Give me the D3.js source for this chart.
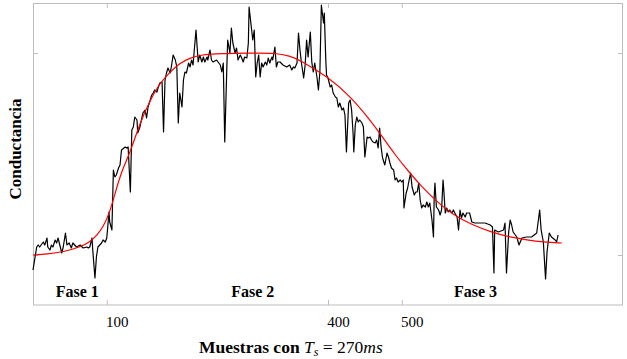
<!DOCTYPE html>
<html>
<head>
<meta charset="utf-8">
<script src="https://cdn.jsdelivr.net/npm/d3@7"></script>
<style>
body { margin: 0; background: #fff; }
svg { display: block; }
text { font-family: "Liberation Serif", "Times New Roman", serif; fill: #000; }
</style>
</head>
<body>
<script>
// muestra, conductancia
var conductancia = [
	[0,-7.5],[5,4],[7,5],[9,4],[14,6.5],[16,5],[19,8.5],[20,4],[23,2.5],[25,5],
	[27,4],[30,7.5],[32,6],[34,8.5],[37,4],[39,1],[41,4],[44,11],[46,5],[49,6],
	[52,3.5],[54,6],[59,4],[64,5],[68,3.5],[73,4],[75,3.5],[77,4],[80,8.5],[81,2.5],
	[84,-11.5],[86,-1],[88,4],[93,6],[95,7.5],[98,6.5],[100,8.5],[101,12.5],[103,21.5],[104,16.5],
	[107,12.5],[109,42.5],[111,39],[113,40],[116,43.5],[118,45],[120,52.5],[125,54],[127,53.5],[129,54],
	[132,31.5],[134,62.5],[136,64],[138,69],[141,67.5],[142,61],[145,64],[147,67.5],[149,71],[152,72.5],
	[154,68.5],[156,74],[159,77.5],[161,80],[163,81],[165,82.5],[168,81.5],[170,84],[172,86],[175,86.5],
	[177,61.5],[179,87.5],[181,91],[183,93.5],[186,91],[188,95],[190,100],[193,97.5],[195,94],[197,66],
	[199,81],[202,74],[204,87.5],[206,91.5],[208,91],[211,96],[213,94],[215,97.5],[217,95],[221,112.5],
	[224,96.5],[226,100],[229,96.5],[231,99],[233,96.5],[236,99],[237,97.5],[240,102.5],[242,97.5],[244,96.5],
	[249,97.5],[254,95],[256,91.5],[258,96],[260,56.5],[263,96],[264,107.5],[267,101],[269,113.5],[271,106],
	[274,101],[276,103.5],[278,97.5],[281,100],[283,98.5],[285,96.5],[287,99],[290,98.5],[292,106],[293,124],
	[296,114],[298,107.5],[300,112.5],[302,89],[304,96],[306,100],[308,89],[310,96],[312,94],[315,96.5],
	[317,95],[319,98.5],[321,96],[324,99],[325,97.5],[328,104],[330,94],[332,96.5],[335,96.5],[339,95],
	[344,94],[348,95],[351,92.5],[353,94],[355,93.5],[358,96],[360,111],[362,102.5],[364,96],[367,88.5],
	[369,95],[371,107.5],[373,99],[376,111.5],[378,96.5],[380,91.5],[382,96],[385,89],[387,82.5],[389,91.5],
	[391,125],[394,116],[395,121],[397,97.5],[398,90],[400,88.5],[403,84],[405,85],[407,81],[410,79],
	[412,78.5],[414,74],[416,76],[419,72.5],[421,73.5],[423,70],[425,51.5],[428,76],[430,77.5],[432,72.5],
	[434,61],[435,51.5],[437,65],[439,69],[441,66.5],[443,67.5],[446,66],[448,64],[450,49],[453,59],
	[455,58.5],[457,59],[459,57.5],[461,56.5],[464,56],[466,57.5],[468,53.5],[470,63.5],[472,54],[474,48.5],
	[477,45],[480,51],[482,49],[484,46],[486,43.5],[489,42.5],[491,37.5],[493,38.5],[495,36.5],[498,37.5],
	[500,36.5],[502,37.5],[503,23.5],[506,31],[508,33.5],[510,37.5],[512,41],[514,34],[517,30],[519,31.5],
	[521,31.5],[523,36],[525,27.5],[527,23.5],[529,25],[532,24],[534,26.5],[536,24],[538,26],[541,17.5],
	[543,9],[544,29],[545,36],[547,24],[550,22.5],[552,20],[554,22.5],[556,37.5],[557,32.5],[559,21],
	[561,23.5],[563,21.5],[565,22.5],[568,21],[570,22.5],[572,21],[575,19],[577,12.5],[579,22.5],[581,18.5],
	[583,21],[586,19],[588,21],[592,21],[595,16.5],[599,16],[606,16],[613,16],[620,15],[623,14],
	[625,-9],[626,12.5],[631,11.5],[638,12.5],[640,16],[642,-9],[645,11.5],[647,17.5],[649,15],[651,11.5],
	[656,9],[659,5],[663,8.5],[669,9],[676,9],[683,11],[687,22.5],[689,12.5],[692,6.5],[695,-12],
	[697,1.5],[700,11],[703,9],[708,7.5],[710,6.5],[712,10]
];

// curva ajustada (roja)
var ajuste = [
	[0,0],[19,0.5],[41,1.5],[64,4],[77,6.5],[87,10],[95,14],[104,21],[114,34.5],[122,43.5],
	[132,51.5],[145,66],[159,77.5],[172,86],[186,91.5],[199,96],[213,98.5],[226,100],[254,100.75],[294,101],
	[330,101],[348,99.5],[362,97.5],[400,89],[430,79.5],[457,67.5],[471,60.5],[491,50],[511,41],[525,35],
	[548,26.5],[570,20],[593,15.5],[624,11],[647,9],[670,7.5],[692,6.5],[717,6]
];

var xTicks = [100, 400, 500],
	yTicks = [0, 101];

var fases = ["Fase 1", "Fase 2", "Fase 3"],
	faseCentro = [60, 298, 600];

var width = 627,
	height = 359,
	mLeft = 33,
	mRight = 623,
	mTop = 3,
	mBottom = 305;

var x = d3.scaleLinear().domain([0, 800]).range([mLeft, mRight]),
	y = d3.scaleLinear().domain([-25, 126]).range([mBottom, mTop]);

var svg = d3.select("body").append("svg")
		.attr("width", width)
		.attr("height", height);

var gray = "#bdbdbd";

function styleAxis(g){
	g.select(".domain").remove();
	g.selectAll("line").attr("stroke", gray);
}

svg.append("g")
		.attr("transform", "translate(0," + mBottom + ")")
		.call(d3.axisBottom(x).tickValues(xTicks).tickSizeInner(-5).tickSizeOuter(0).tickPadding(11))
		.call(styleAxis)
		.call(function(g){
			g.selectAll("text")
				.attr("dx", 10)
				.style("font-size", "15px")
				.style("font-family", "'Liberation Serif', serif")
				.attr("fill", "#000");
		});

svg.append("g")
		.attr("transform", "translate(0," + mTop + ")")
		.call(d3.axisTop(x).tickValues(xTicks).tickSizeInner(-5).tickSizeOuter(0).tickFormat(""))
		.call(styleAxis);

svg.append("g")
		.attr("transform", "translate(" + mLeft + ",0)")
		.call(d3.axisLeft(y).tickValues(yTicks).tickSizeInner(-5).tickSizeOuter(0).tickFormat(""))
		.call(styleAxis);

svg.append("g")
		.attr("transform", "translate(" + mRight + ",0)")
		.call(d3.axisRight(y).tickValues(yTicks).tickSizeInner(-5).tickSizeOuter(0).tickFormat(""))
		.call(styleAxis);

svg.append("rect")
		.attr("x", mLeft + 0.5)
		.attr("y", mTop + 0.5)
		.attr("width", mRight - mLeft - 1)
		.attr("height", mBottom - mTop - 0.5)
		.attr("fill", "none")
		.attr("stroke", gray);

var line = d3.line()
		.x(function(d){ return x(d[0]); })
		.y(function(d){ return y(d[1]); });

svg.append("path")
		.datum(conductancia)
		.attr("d", line)
		.attr("fill", "none")
		.attr("stroke", "#000")
		.attr("stroke-width", 1.2)
		.attr("stroke-linejoin", "round");

svg.append("path")
		.datum(ajuste)
		.attr("d", line.curve(d3.curveBasis))
		.attr("fill", "none")
		.attr("stroke", "#ff0000")
		.attr("stroke-width", 1.2);

svg.selectAll(".fase")
		.data(fases)
	.enter().append("text")
		.attr("class", "fase")
		.attr("x", function(d, i){ return x(faseCentro[i]); })
		.attr("y", 297)
		.attr("text-anchor", "middle")
		.style("font-size", "16px")
		.style("font-weight", "bold")
		.text(function(d){ return d; });

svg.append("text")
		.attr("transform", "translate(21,149) rotate(-90)")
		.attr("text-anchor", "middle")
		.style("font-size", "17px")
		.style("font-weight", "bold")
		.text("Conductancia");

var xl = svg.append("text")
		.attr("x", 199)
		.attr("y", 353)
		.style("font-size", "17.5px");
xl.append("tspan").style("font-weight", "bold").text("Muestras con ");
xl.append("tspan").style("font-style", "italic").text("T");
xl.append("tspan").style("font-style", "italic").style("font-size", "12px").attr("dy", 3).text("s");
xl.append("tspan").attr("dy", -3).text(" = 270");
xl.append("tspan").style("font-style", "italic").text("ms");
</script>
</body>
</html>
